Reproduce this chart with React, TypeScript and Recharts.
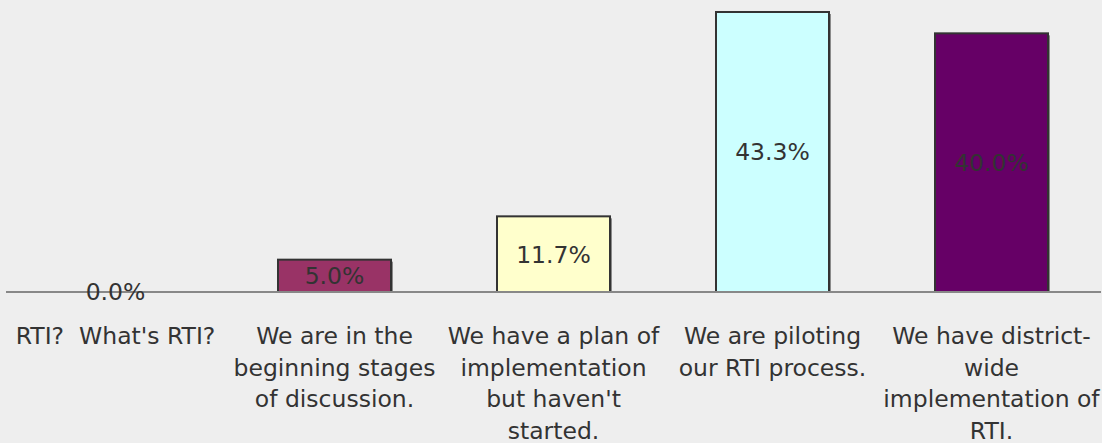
import { BarChart, Bar, XAxis, YAxis, LabelList, Cell } from "recharts";

const categories = [
    "RTI?  What's RTI?",
    "We are in the\nbeginning stages\nof discussion.",
    "We have a plan of\nimplementation\nbut haven't\nstarted.",
    "We are piloting\nour RTI process.",
    "We have district-\nwide\nimplementation of\nRTI.",
];
const percents = [0.0, 5.0, 11.7, 43.3, 40.0];
const barColors = ["#9999FF", "#993366", "#FFFFCC", "#CCFFFF", "#660066"];

const data = categories.map((name, i) => ({ name, value: percents[i] }));

const FONT = "'DejaVu Sans', Verdana, sans-serif";

const WrappedTick = (props: any) => {
    const { x, y, payload } = props;
    const lines: string[] = String(payload.value).split("\n");
    return (
        <text
            x={x}
            y={y + 44}
            textAnchor="middle"
            fill="#333333"
            fontSize={23.5}
            fontFamily={FONT}
            style={{ whiteSpace: "pre" }}
        >
            {lines.map((line, i) => (
                <tspan key={i} x={x} dy={i === 0 ? 0 : 31.5}>
                    {line}
                </tspan>
            ))}
        </text>
    );
};

const ShadowBar = (props: any) => {
    const { x, y, width, height, fill } = props;
    if (!height || height <= 0) return null;
    return (
        <g>
            <rect x={x + 2} y={y + 2} width={width} height={height} fill="#8a8a8a" />
            <rect
                x={x}
                y={y}
                width={width}
                height={height}
                fill={fill}
                stroke="#333333"
                strokeWidth={2}
            />
        </g>
    );
};

export default function App() {
    return (
        <div
            style={{
                position: "absolute",
                left: 0,
                top: 0,
                width: 1102,
                height: 443,
                background: "#eeeeee",
            }}
        >
            <BarChart
                width={1102}
                height={443}
                data={data}
                margin={{ top: 1, right: 1, left: 6, bottom: 0 }}
                barCategoryGap={53}
            >
                <XAxis
                    dataKey="name"
                    height={151}
                    interval={0}
                    tickLine={false}
                    axisLine={{ stroke: "#888888", strokeWidth: 2 }}
                    tick={<WrappedTick />}
                />
                <YAxis hide domain={[0, 45]} allowDataOverflow />
                <Bar dataKey="value" isAnimationActive={false} shape={<ShadowBar />}>
                    {data.map((_, i) => (
                        <Cell key={i} fill={barColors[i]} />
                    ))}
                    <LabelList
                        dataKey="value"
                        position="center"
                        formatter={(v: any) => `${Number(v).toFixed(1)}%`}
                        fill="#333333"
                        fontSize={23.5}
                        fontFamily={FONT}
                    />
                </Bar>
            </BarChart>
        </div>
    );
}
